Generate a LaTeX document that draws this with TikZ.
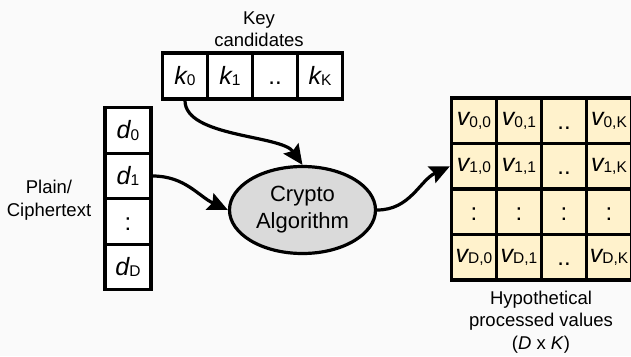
\documentclass[tikz,border=0pt]{standalone}
\usepackage{fontspec}
\setmainfont{Liberation Sans}
\usetikzlibrary{arrows.meta,shapes.geometric}

\definecolor{bgcol}{RGB}{250,250,250}
\definecolor{cellfill}{HTML}{FFF2CC}
\definecolor{algofill}{HTML}{DADADA}

% letter with a small upright index
\newcommand{\sym}[2]{{\fontsize{25}{25}\selectfont\itshape #1}{\fontsize{15.5}{15.5}\selectfont\raisebox{-1.5pt}{#2}}}
\newcommand{\cellmark}[1]{{\fontsize{24}{24}\selectfont\vphantom{k}#1}}

\begin{document}
\begin{tikzpicture}[x=1pt,y=-1pt]
      \path[fill=bgcol,use as bounding box] (0,0) rectangle (631,356);

      \begin{scope}[every node/.style={rectangle,draw,line width=3.2pt,fill=white,minimum width=45pt,minimum height=46pt,inner sep=0pt}]
        \node (k0)    at (185,76) {\sym{k}{0}};
        \node (k1)    at (230,76) {\sym{k}{1}};
        \node (kdots) at (275,76) {\cellmark{..}};
        \node (kK)    at (320,76) {\sym{k}{K}};
      \end{scope}

      \begin{scope}[every node/.style={rectangle,draw,line width=3.2pt,fill=white,minimum width=46pt,minimum height=45.5pt,inner sep=0pt}]
        \node (d0)    at (128,130.5) {\sym{d}{0}};
        \node (d1)    at (128,176)   {\sym{d}{1}};
        \node (ddots) at (128,221.5) {\cellmark{:}};
        \node (dD)    at (128,267)   {\sym{d}{D}};
      \end{scope}

      \begin{scope}[every node/.style={rectangle,draw,line width=3.2pt,fill=cellfill,minimum width=45pt,minimum height=45.5pt,inner sep=0pt}]
        \node (v00) at (474,120.75) {\sym{v}{0,0}};
        \node (v01) at (519,120.75) {\sym{v}{0,1}};
        \node (v0d) at (564,120.75) {\cellmark{..}};
        \node (v0K) at (609,120.75) {\sym{v}{0,K}};
        \node (v10) at (474,166.25) {\sym{v}{1,0}};
        \node (v11) at (519,166.25) {\sym{v}{1,1}};
        \node (v1d) at (564,166.25) {\cellmark{..}};
        \node (v1K) at (609,166.25) {\sym{v}{1,K}};
        \node (vd0) at (474,211.75) {\cellmark{:}};
        \node (vd1) at (519,211.75) {\cellmark{:}};
        \node (vdd) at (564,211.75) {\cellmark{:}};
        \node (vdK) at (609,211.75) {\cellmark{:}};
        \node (vD0) at (474,257.25) {\sym{v}{D,0}};
        \node (vD1) at (519,257.25) {\sym{v}{D,1}};
        \node (vDd) at (564,257.25) {\cellmark{..}};
        \node (vDK) at (609,257.25) {\sym{v}{D,K}};
      \end{scope}

      \node (algo) [ellipse,draw,line width=3.2pt,fill=algofill,minimum width=146pt,minimum height=87pt,inner sep=0pt,
        align=center,font=\fontsize{22}{27}\selectfont] at (302.5,210) {Crypto\\Algorithm};

      \begin{scope}[every node/.style={align=center,font=\fontsize{18.5}{22.5}\selectfont}]
        \node (keylbl)  at (259,29)  {Key\\candidates};
        \node (datalbl) at (49,200)  {Plain/\\Ciphertext};
        \node (hyplbl)  at (541,322) {Hypothetical\\processed values\\(\textit{D} x \textit{K})};
      \end{scope}

      \begin{scope}[every edge/.style={draw,line width=3.2pt,-{Stealth[length=20pt,width=18pt,inset=3pt]}}]
        \path (k0.south)  edge[out=-90,in=125,looseness=0.7] (algo.north);
        \path (d1.east)   edge[out=0,in=155] (algo.west);
        \path (algo.east) edge[out=0,in=205] (v10.west);
      \end{scope}

    \end{tikzpicture}
\end{document}
